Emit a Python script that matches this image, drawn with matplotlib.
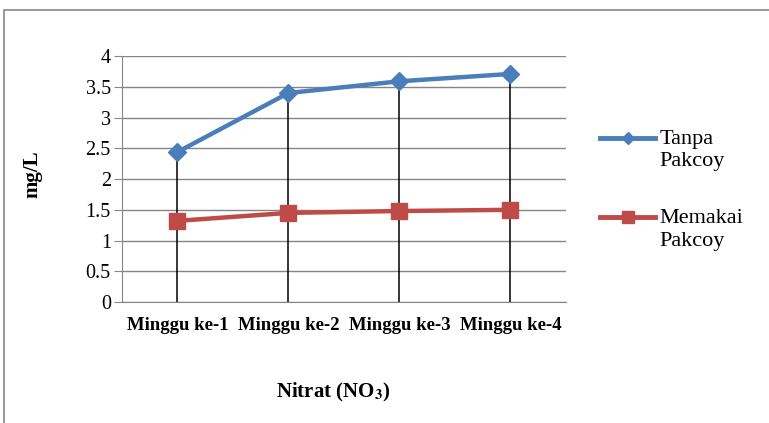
import matplotlib.pyplot as plt
from matplotlib.lines import Line2D
from matplotlib.patches import Rectangle
from matplotlib.legend_handler import HandlerLine2D

plt.rcParams['font.family'] = 'Liberation Serif'
plt.rcParams['mathtext.fontset'] = 'stix'

weeks = ["Minggu ke-1", "Minggu ke-2", "Minggu ke-3", "Minggu ke-4"]
tanpa = [2.44, 3.40, 3.59, 3.71]
memakai = [1.32, 1.45, 1.48, 1.50]

blue = "#4A7EBB"
red = "#BE4B48"


class TopLineHandler(HandlerLine2D):
    # put the legend line next to the first line of a two-line label
    def create_artists(self, legend, orig_handle, xdescent, ydescent,
                       width, height, fontsize, trans):
        return super().create_artists(legend, orig_handle, xdescent,
                                      ydescent - 1.05 * fontsize, width, height,
                                      fontsize, trans)


fig = plt.figure(figsize=(7.69, 4.23), dpi=100)
ax = fig.add_axes([0.1586, 0.286, 0.5774, 0.5814])

x = range(len(weeks))
# drop lines from the axis up to the highest series
ax.vlines(x, 0, tanpa, color="black", lw=1.1, zorder=2)
ax.plot(x, tanpa, color=blue, lw=3.2, marker="D", ms=9, zorder=3)
ax.plot(x, memakai, color=red, lw=3.2, marker="s", ms=11, zorder=3)

ax.set_xlim(-0.5, 3.5)
ax.set_ylim(0, 4)
ax.set_yticks([0, 0.5, 1, 1.5, 2, 2.5, 3, 3.5, 4])
ax.set_yticklabels(["0", "0.5", "1", "1.5", "2", "2.5", "3", "3.5", "4"])
ax.set_xticks(list(x))
ax.set_xticklabels(weeks, fontweight="bold", fontsize=13.5)
ax.tick_params(axis="x", length=0, pad=11)
ax.tick_params(axis="y", length=6, color="#868686", labelsize=14.5, pad=2)
ax.grid(axis="y", color="#868686", lw=1)
ax.set_axisbelow(True)
for s in ["top", "right"]:
    ax.spines[s].set_visible(False)
ax.spines["left"].set_color("#868686")
ax.spines["bottom"].set_color("#868686")

ax.set_ylabel("mg/L", fontweight="bold", fontsize=15)
ax.yaxis.set_label_coords(-0.18, 0.52)
ax.set_xlabel(r"Nitrat (NO$_{\mathbf{3}}$)", fontweight="bold", fontsize=15)
ax.xaxis.set_label_coords(0.475, -0.32)

handles = [
    Line2D([], [], color=blue, lw=3.5, marker="D", ms=6),
    Line2D([], [], color=red, lw=3.5, marker="s", ms=8),
]
leg = fig.legend(handles, ["Tanpa\nPakcoy", "Memakai\nPakcoy"], loc="upper left",
                 bbox_to_anchor=(0.78, 0.693), frameon=False, fontsize=16,
                 borderpad=0, borderaxespad=0,
                 handlelength=2.5, handletextpad=0.2, labelspacing=1.7,
                 handler_map={Line2D: TopLineHandler()})
for t in leg.get_texts():
    t.set_linespacing(1.25)

fig.patches.append(Rectangle((4 / 769, -0.1), 1.1, 1.1 - 10 / 423, transform=fig.transFigure,
                             fill=False, edgecolor="#868686", lw=1.2))

fig.savefig("out.png", dpi=100)
